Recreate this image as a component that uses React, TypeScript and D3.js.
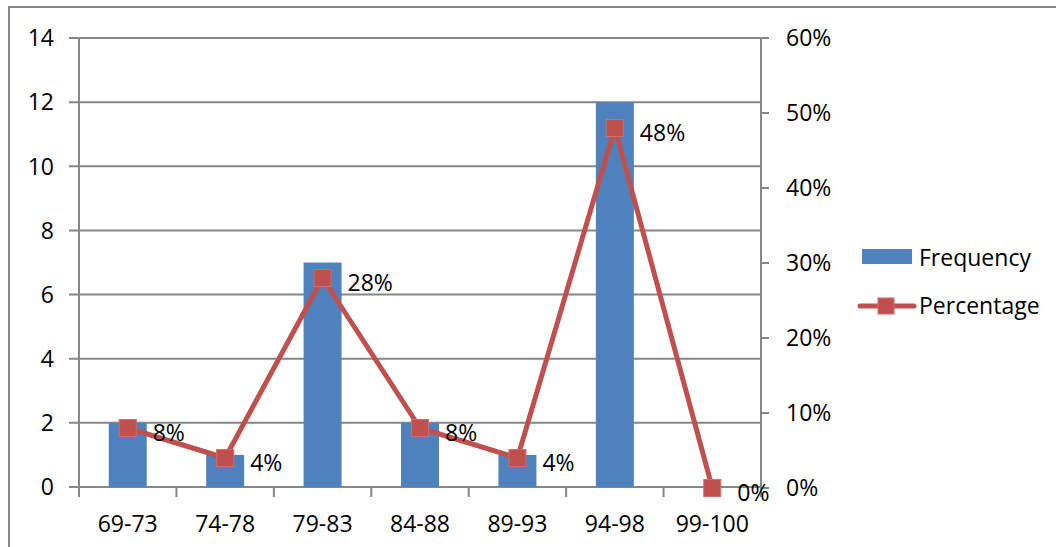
import React, { useEffect, useRef } from "react";
import * as d3 from "d3";

const categories = ["69-73", "74-78", "79-83", "84-88", "89-93", "94-98", "99-100"];
const frequency = [2, 1, 7, 2, 1, 12, 0];
const percentage = [0.08, 0.04, 0.28, 0.08, 0.04, 0.48, 0];
const leftTicks = [0, 2, 4, 6, 8, 10, 12, 14];
const rightTicks = [0, 0.1, 0.2, 0.3, 0.4, 0.5, 0.6];

const App = () => {
  const svgRef = useRef<SVGSVGElement | null>(null);
  const w = 1056;
  const h = 547;
  const m = { top: 38, left: 79, right: 761, bottom: 487 };

  useEffect(() => {
    d3.select(svgRef.current).selectAll("*").remove();
    const svg = d3.select(svgRef.current).attr("viewBox", `0 0 ${w} ${h}`);
    const font = "'Open Sans', 'Noto Sans', sans-serif";
    const fs = "23px";
    const grey = "#868686";

    // outer chart border (right and bottom run off the picture)
    svg.append("rect")
      .attr("x", 9).attr("y", 7)
      .attr("width", 1100).attr("height", 600)
      .attr("fill", "white")
      .attr("stroke", grey)
      .attr("stroke-width", 2);

    const x = d3.scaleBand().domain(categories).range([m.left, m.right]);
    const yL = d3.scaleLinear().domain([0, 14]).range([m.bottom, m.top]);
    const yR = d3.scaleLinear().domain([0, 0.6]).range([m.bottom + 1, m.top]);

    // gridlines + left ticks
    svg.append("g")
      .selectAll("line")
      .data(leftTicks)
      .enter()
      .append("line")
      .attr("x1", m.left - 10)
      .attr("x2", m.right)
      .attr("y1", (d) => yL(d))
      .attr("y2", (d) => yL(d))
      .attr("stroke", grey)
      .attr("stroke-width", 2);

    svg.append("g")
      .selectAll("text")
      .data(leftTicks)
      .enter()
      .append("text")
      .attr("x", 54)
      .attr("y", (d) => yL(d))
      .attr("dy", "0.36em")
      .attr("text-anchor", "end")
      .style("font-family", font)
      .style("font-size", fs)
      .style("fill", "#000")
      .text((d) => d);

    // left / right axis lines
    svg.append("line")
      .attr("x1", m.left).attr("x2", m.left)
      .attr("y1", m.top).attr("y2", m.bottom)
      .attr("stroke", grey).attr("stroke-width", 2);
    svg.append("line")
      .attr("x1", m.right).attr("x2", m.right)
      .attr("y1", m.top).attr("y2", m.bottom + 1)
      .attr("stroke", grey).attr("stroke-width", 2);

    // right ticks
    svg.append("g")
      .selectAll("line")
      .data(rightTicks)
      .enter()
      .append("line")
      .attr("x1", m.right)
      .attr("x2", m.right + 8)
      .attr("y1", (d) => yR(d))
      .attr("y2", (d) => yR(d))
      .attr("stroke", grey)
      .attr("stroke-width", 2);

    svg.append("g")
      .selectAll("text")
      .data(rightTicks)
      .enter()
      .append("text")
      .attr("x", 786)
      .attr("y", (d) => yR(d))
      .attr("dy", "0.36em")
      .style("font-family", font)
      .style("font-size", fs)
      .style("fill", "#000")
      .text((d) => d3.format(".0%")(d));

    // x axis ticks
    const xEdges = categories.map((c) => x(c)!).concat([m.right]);
    svg.append("g")
      .selectAll("line")
      .data(xEdges)
      .enter()
      .append("line")
      .attr("x1", (d) => d)
      .attr("x2", (d) => d)
      .attr("y1", m.bottom)
      .attr("y2", m.bottom + 10)
      .attr("stroke", grey)
      .attr("stroke-width", 2);

    svg.append("g")
      .selectAll("text")
      .data(categories)
      .enter()
      .append("text")
      .attr("x", (d) => x(d)! + x.bandwidth() / 2)
      .attr("y", 532)
      .attr("text-anchor", "middle")
      .style("font-family", font)
      .style("font-size", fs)
      .style("fill", "#000")
      .text((d) => d);

    // bars
    const barW = x.bandwidth() * 0.39;
    svg.append("g")
      .selectAll("rect")
      .data(frequency)
      .enter()
      .append("rect")
      .attr("x", (d, i) => x(categories[i])! + x.bandwidth() / 2 - barW / 2)
      .attr("y", (d) => yL(d))
      .attr("width", barW)
      .attr("height", (d) => yL(0) - yL(d))
      .attr("fill", "#4F81BD");

    // line
    const red = "#C0504D";
    const line = d3.line<number>()
      .x((d, i) => x(categories[i])! + x.bandwidth() / 2)
      .y((d) => yR(d));
    svg.append("path")
      .datum(percentage)
      .attr("d", line)
      .attr("fill", "none")
      .attr("stroke", red)
      .attr("stroke-width", 5)
      .attr("stroke-linejoin", "round");

    svg.append("g")
      .selectAll("rect")
      .data(percentage)
      .enter()
      .append("rect")
      .attr("x", (d, i) => x(categories[i])! + x.bandwidth() / 2 - 8.5)
      .attr("y", (d) => yR(d) - 8.5)
      .attr("width", 17)
      .attr("height", 17)
      .attr("fill", red)
      .attr("stroke", "#CF6E6B")
      .attr("stroke-width", 1);

    // data labels
    svg.append("g")
      .selectAll("text")
      .data(percentage)
      .enter()
      .append("text")
      .attr("x", (d, i) => x(categories[i])! + x.bandwidth() / 2 + 25)
      .attr("y", (d) => yR(d) + 5)
      .attr("dy", "0.36em")
      .style("font-family", font)
      .style("font-size", fs)
      .style("fill", "#000")
      .text((d) => d3.format(".0%")(d));

    // legend
    const lg = svg.append("g");
    lg.append("rect")
      .attr("x", 862).attr("y", 249)
      .attr("width", 50).attr("height", 15)
      .attr("fill", "#4F81BD");
    lg.append("text")
      .attr("x", 919).attr("y", 258)
      .attr("dy", "0.36em")
      .style("font-family", font)
      .style("font-size", fs)
      .text("Frequency");
    lg.append("line")
      .attr("x1", 860).attr("x2", 914)
      .attr("y1", 306).attr("y2", 306)
      .attr("stroke", red)
      .attr("stroke-width", 5)
      .attr("stroke-linecap", "round");
    lg.append("rect")
      .attr("x", 878).attr("y", 298)
      .attr("width", 16).attr("height", 16)
      .attr("fill", red)
      .attr("stroke", "#CF6E6B");
    lg.append("text")
      .attr("x", 919).attr("y", 306)
      .attr("dy", "0.36em")
      .style("font-family", font)
      .style("font-size", fs)
      .text("Percentage");
  }, []);

  return (
    <svg
      ref={svgRef}
      width={w}
      height={h}
      style={{ position: "absolute", left: 0, top: 0, background: "white" }}
    ></svg>
  );
};

export default App;
